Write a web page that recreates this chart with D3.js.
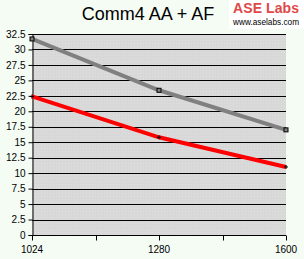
<!DOCTYPE html>
<html>
<head>
<meta charset="utf-8">
<script src="https://cdn.jsdelivr.net/npm/d3@7"></script>
<style>
  body { margin: 0; background: #f4fcf4; }
  svg { display: block; font-family: "Liberation Sans", Arial, sans-serif; }
</style>
</head>
<body>
<div class="chart"></div>
<script>
var values = { width: 304, height: 259 };
var margin = { top: 34, right: 18, bottom: 24, left: 32 };

var resolutions = ["1024", "1280", "1600"];
var seriesAF = [31.7, 23.4, 17.0];   // gray line
var seriesAA = [22.4, 15.8, 11.0];   // red line
var yTicks = [0, 2.5, 5, 7.5, 10, 12.5, 15, 17.5, 20, 22.5, 25, 27.5, 30, 32.5];

var w = values.width - margin.left - margin.right;
var h = values.height - margin.top - margin.bottom;

var svg = d3.select('.chart')
  .append('svg')
  .attr('width', values.width)
  .attr('height', values.height);

// dotted gray background pattern
var defs = svg.append('defs');
var pat = defs.append('pattern')
  .attr('id', 'dots')
  .attr('width', 3).attr('height', 3)
  .attr('patternUnits', 'userSpaceOnUse');
pat.append('rect').attr('width', 3).attr('height', 3).attr('fill', '#d8d8d8');
pat.append('rect').attr('width', 1).attr('height', 1).attr('fill', '#e0e0e0');

var g = svg.append('g')
  .attr('transform', 'translate(' + margin.left + ',' + margin.top + ')');

var x = d3.scalePoint().domain(resolutions).range([0, w]);
var y = d3.scaleLinear().domain([0, 32.5]).range([h, 0]);

g.append('rect')
  .attr('width', w).attr('height', h)
  .attr('fill', 'url(#dots)');

// horizontal grid lines
g.selectAll('.grid')
  .data(yTicks)
  .enter()
  .append('line')
  .attr('x1', 0).attr('x2', w)
  .attr('y1', d => y(d) + 0.5).attr('y2', d => y(d) + 0.5)
  .attr('stroke', '#000').attr('shape-rendering', 'crispEdges');

// y axis
var yAxis = d3.axisLeft(y).tickValues(yTicks).tickSize(4).tickPadding(3)
  .tickFormat(d => String(d));
var ya = g.append('g').attr('transform', 'translate(0.5,0)').call(yAxis);
ya.select('.domain').attr('stroke', '#000');
ya.selectAll('text').attr('font-size', 10).attr('fill', '#000');

// x axis: labels on categories, ticks also halfway between
var step = x.step();
var xTickPos = [0, 0.5, 1, 1.5, 2];
var xa = g.append('g').attr('transform', 'translate(0,' + (h + 0.5) + ')');
xa.append('line').attr('x1', 0).attr('x2', w).attr('stroke', '#000');
xa.selectAll('.tk')
  .data(xTickPos)
  .enter()
  .append('line')
  .attr('x1', d => Math.round(d * step) + 0.5).attr('x2', d => Math.round(d * step) + 0.5)
  .attr('y1', 0).attr('y2', 5)
  .attr('stroke', '#000');
xa.selectAll('text')
  .data(resolutions)
  .enter()
  .append('text')
  .attr('x', d => x(d))
  .attr('y', 17)
  .attr('text-anchor', 'middle')
  .attr('font-size', 10)
  .text(d => d);

var line = d3.line()
  .x((d, i) => x(resolutions[i]))
  .y(d => y(d));

g.append('path')
  .datum(seriesAF)
  .attr('d', line)
  .attr('fill', 'none')
  .attr('stroke', '#808080')
  .attr('stroke-width', 4);

g.append('path')
  .datum(seriesAA)
  .attr('d', line)
  .attr('fill', 'none')
  .attr('stroke', '#ff0000')
  .attr('stroke-width', 4);

// markers
g.selectAll('.sq')
  .data(seriesAF)
  .enter()
  .append('rect')
  .attr('x', (d, i) => x(resolutions[i]) - 2)
  .attr('y', d => y(d) - 2)
  .attr('width', 4).attr('height', 4)
  .attr('fill', '#808080')
  .attr('stroke', '#000').attr('stroke-width', 1);

g.selectAll('.cr')
  .data(seriesAA)
  .enter()
  .append('path')
  .attr('transform', (d, i) => 'translate(' + x(resolutions[i]) + ',' + y(d) + ')')
  .attr('d', 'M-2,0H2M0,-2V2')
  .attr('stroke', '#000').attr('stroke-width', 1)
  .attr('fill', 'none');

// title
svg.append('text')
  .attr('x', 148)
  .attr('y', 20)
  .attr('text-anchor', 'middle')
  .attr('font-size', 18)
  .attr('fill', '#000')
  .text('Comm4 AA + AF');

// logo
svg.append('rect')
  .attr('x', 229).attr('y', 0).attr('width', 75).attr('height', 29)
  .attr('fill', '#fff');
svg.append('text')
  .attr('x', 233).attr('y', 13)
  .attr('font-size', 14).attr('font-weight', 'bold')
  .attr('fill', '#e04848')
  .attr('textLength', 66).attr('lengthAdjust', 'spacing')
  .text('ASE Labs');
svg.append('text')
  .attr('x', 233).attr('y', 25)
  .attr('font-size', 9)
  .attr('fill', '#000')
  .attr('textLength', 66).attr('lengthAdjust', 'spacingAndGlyphs')
  .text('www.aselabs.com');
</script>
</body>
</html>
